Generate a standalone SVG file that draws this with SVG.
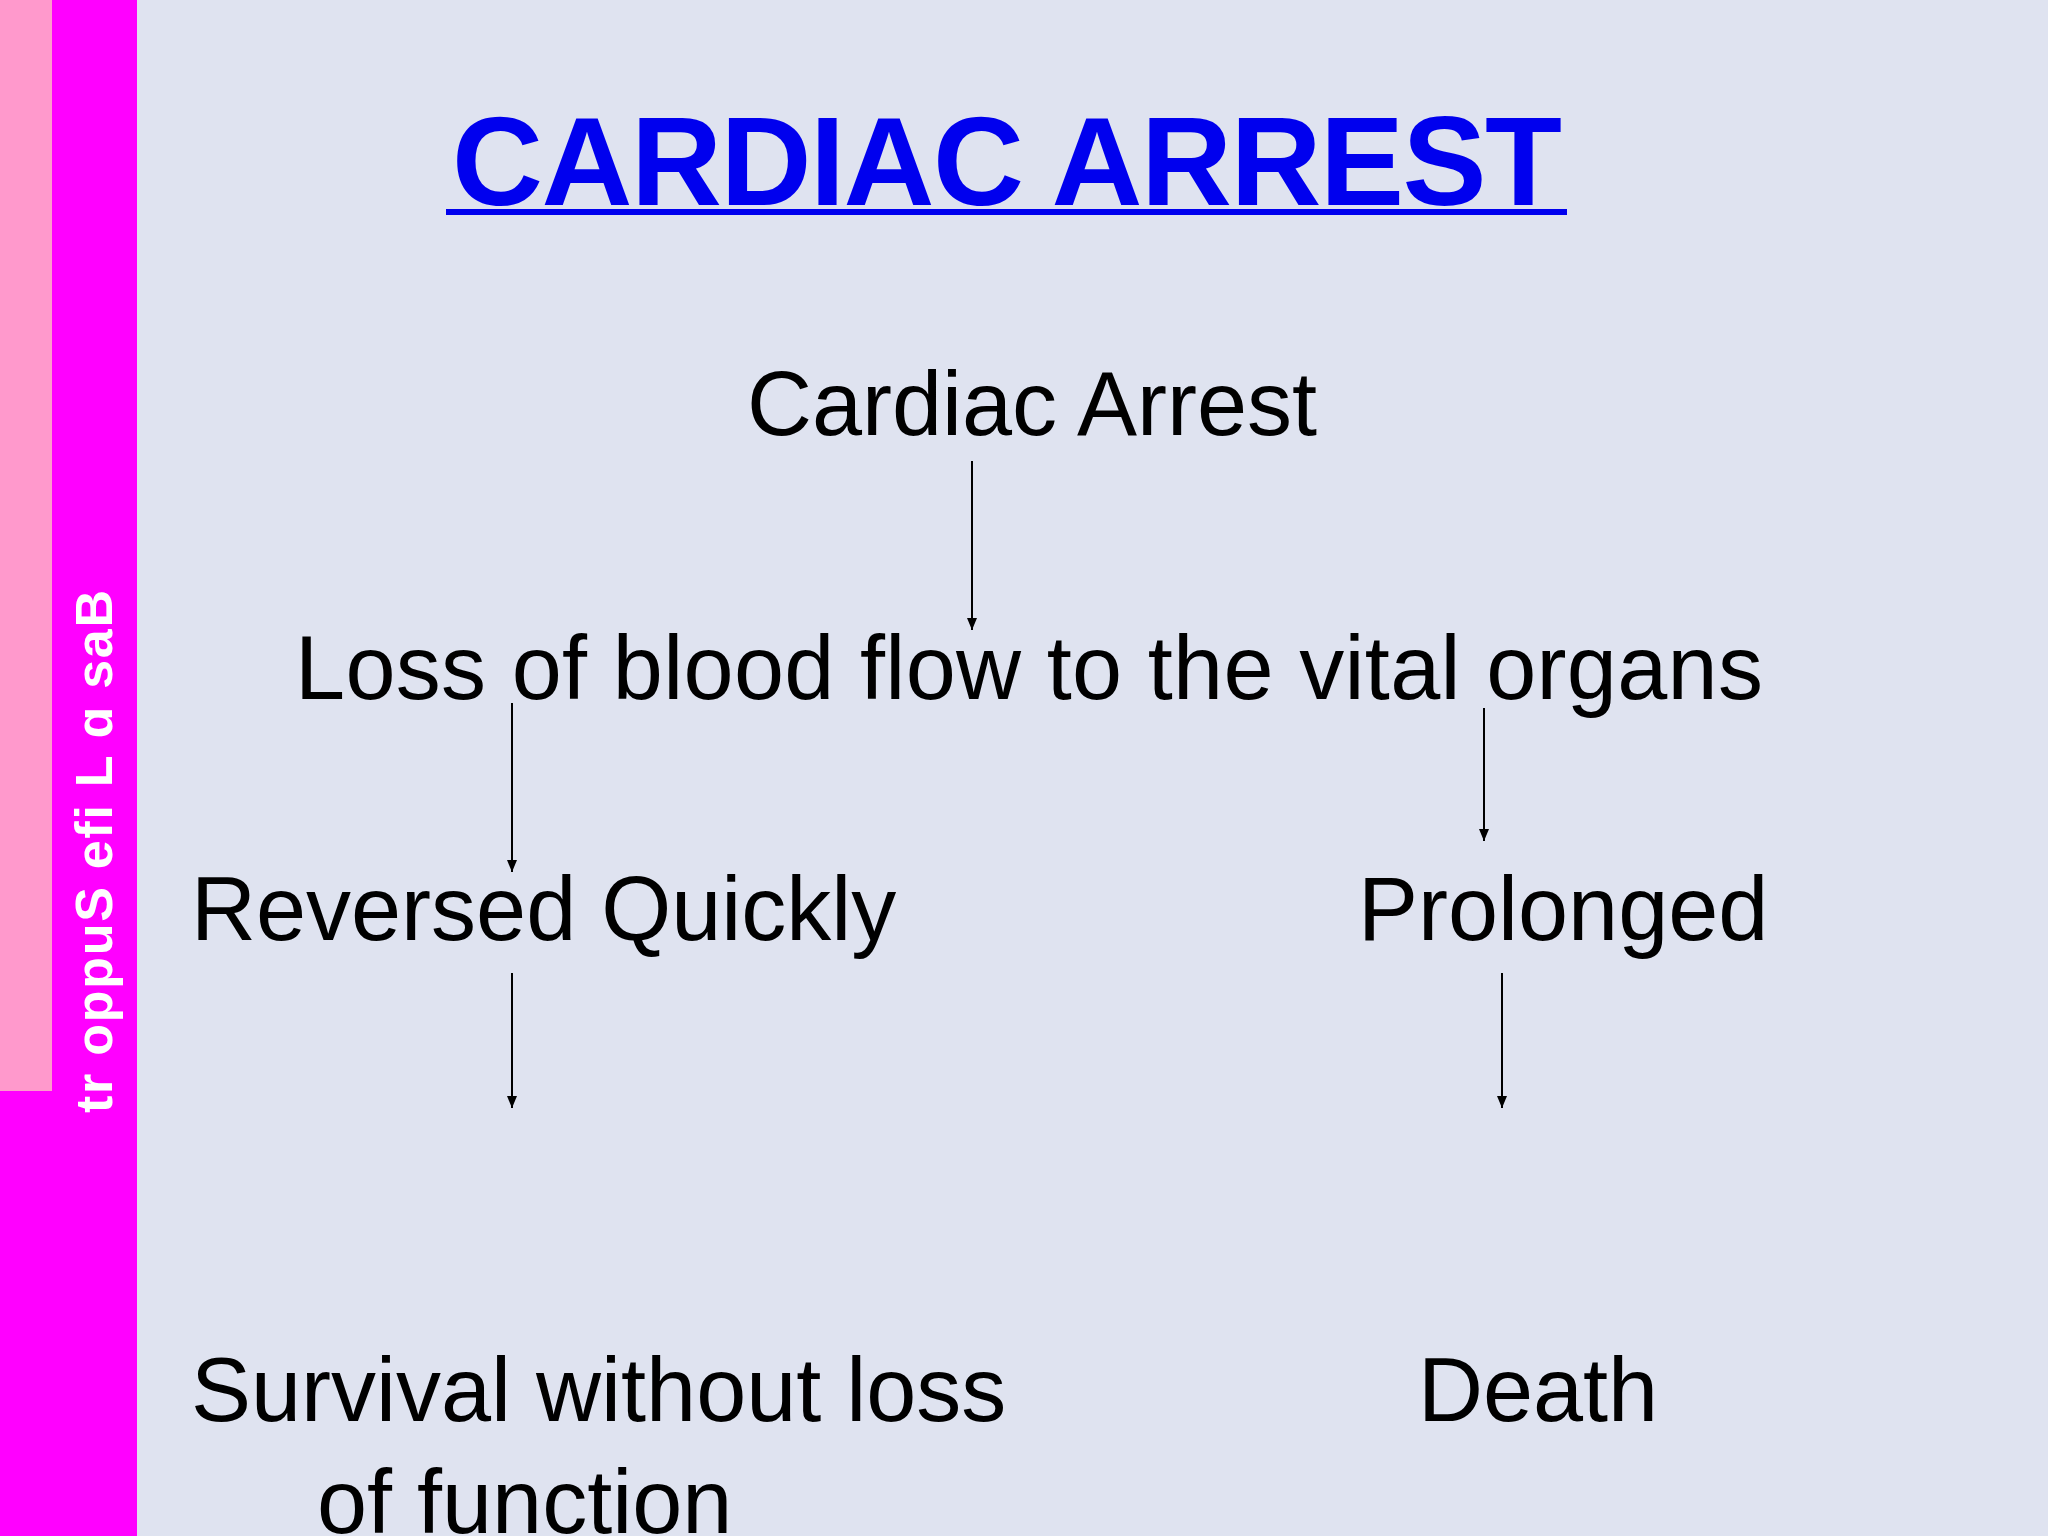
<svg xmlns="http://www.w3.org/2000/svg" width="2048" height="1536" viewBox="0 0 2048 1536">
<defs>
<marker id="ah" markerWidth="12" markerHeight="10" refX="12" refY="5" orient="auto" markerUnits="userSpaceOnUse" viewBox="0 0 12 10">
<path d="M0,0 L12,5 L0,10 Z" fill="#000"/></marker>
<style>
.t{font-family:"Liberation Sans",Arial,sans-serif;font-size:90px;fill:#000}
.c{stroke:#000;stroke-width:2;fill:none;marker-end:url(#ah)}
</style>
</defs>
<rect width="2048" height="1536" fill="#DFE3F0"/>
<rect x="0" y="0" width="137" height="1536" fill="#FF00FF"/>
<rect x="0" y="0" width="52" height="1091" fill="#FF99CC"/>
<text transform="translate(112,1113) rotate(-90)" textLength="523" style="font-family:'Liberation Sans',Arial,sans-serif;font-weight:bold;font-size:52px;fill:#fff">tr oppuS efi L ɑ saB</text>
<g id="title"><text x="1007" y="205" text-anchor="middle" textLength="1110" style="font-family:'Liberation Sans',Arial,sans-serif;font-weight:bold;font-size:126px;fill:#0000EE">CARDIAC ARREST</text>
<rect x="446" y="209" width="1121" height="6" fill="#0000EE"/></g>
<g id="n1"><text class="t" x="1032" y="435" text-anchor="middle">Cardiac Arrest</text></g>
<g id="n2"><text class="t" x="295" y="699" textLength="1468">Loss of blood flow to the vital organs</text></g>
<g id="n3"><text class="t" x="191" y="940">Reversed Quickly</text></g>
<g id="n4"><text class="t" x="1358" y="940">Prolonged</text></g>
<g id="n5"><text class="t" x="191" y="1421">Survival without loss</text><text class="t" x="317" y="1533">of function</text></g>
<g id="n6"><text class="t" x="1418" y="1421">Death</text></g>
<g id="connectors">
<line class="c" x1="972" y1="461" x2="972" y2="630"/>
<line class="c" x1="512" y1="703" x2="512" y2="872"/>
<line class="c" x1="1484" y1="708" x2="1484" y2="841"/>
<line class="c" x1="512" y1="973" x2="512" y2="1108"/>
<line class="c" x1="1502" y1="973" x2="1502" y2="1108"/>
</g>
</svg>
